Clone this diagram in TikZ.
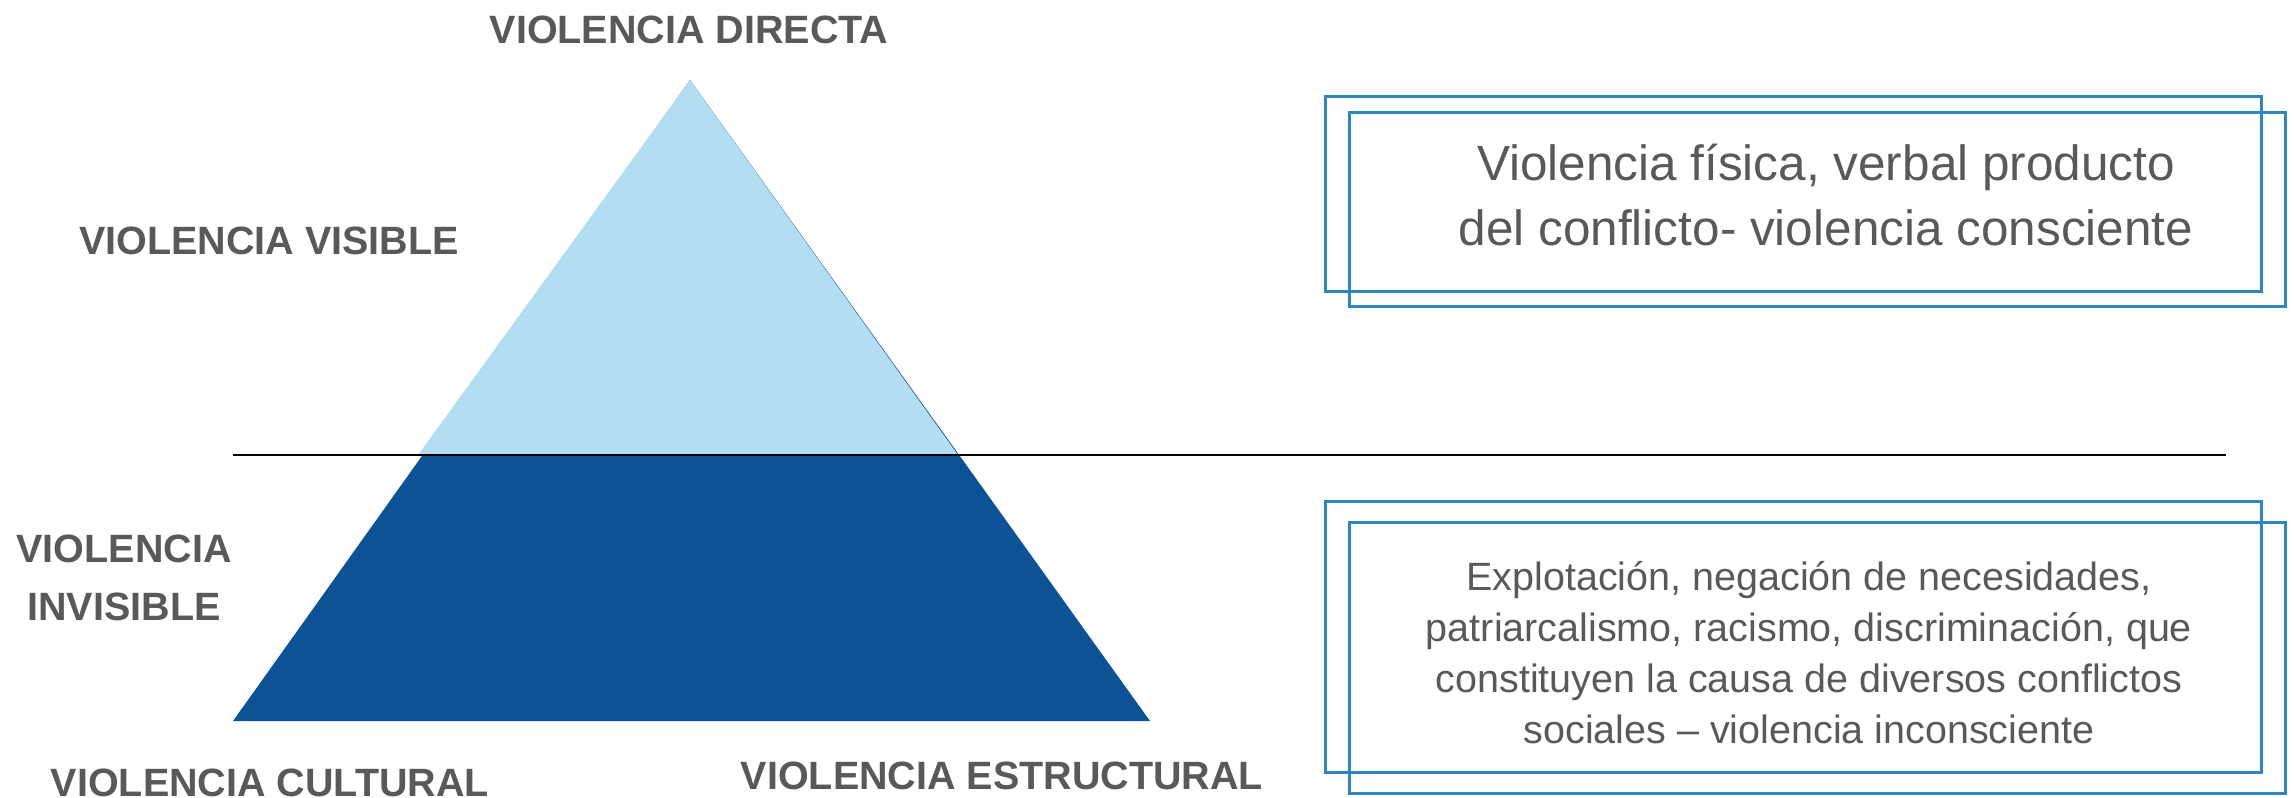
\documentclass[tikz,border=0pt]{standalone}
\usepackage{fontspec}
\setmainfont{Liberation Sans}
\usepackage{tikz}
\usetikzlibrary{positioning}

\definecolor{lightpyr}{HTML}{B3DEF2}
\definecolor{darkpyr}{HTML}{0D5294}
\definecolor{framecol}{HTML}{2E86C1}
\definecolor{labelgray}{HTML}{595959}

\begin{document}
\begin{tikzpicture}[x=1pt,y=-1pt,
    title/.style={text=labelgray,font=\fontsize{39.5}{58}\selectfont\bfseries,inner sep=0pt,align=center},
    note/.style={text=labelgray,align=center,inner sep=0pt},
    noteframe/.style={draw=framecol,line width=3pt}]

    \useasboundingbox (0,0) rectangle (2295,798);

    \coordinate(apex) at (690,80);
    \coordinate(bl) at (233,721);
    \coordinate(br) at (1150,721);
    \coordinate(wl) at (418,455);
    \coordinate(wr) at (958,455);
    \coordinate(hl) at (233,455);
    \coordinate(hr) at (2226,455);

    \fill[darkpyr] (apex) -- (br) -- (bl) -- cycle;
    \fill[lightpyr] (apex) -- (wr) -- (wl) -- cycle;
    \draw[line width=1.5pt] (hl) -- (hr);

    \node(directa)[title,anchor=base] at (689,43){VIOLENCIA DIRECTA};
    \node(visible)[title,anchor=base] at (269,254){VIOLENCIA VISIBLE};
    \node(invisible)[title,anchor=base] at (124,620){VIOLENCIA\\INVISIBLE};
    \node(cultural)[title,anchor=base] at (270,796){VIOLENCIA CULTURAL};
    \node(estructural)[title,anchor=base] at (1002,789){VIOLENCIA ESTRUCTURAL};

    \draw[noteframe] (1325,96) rectangle (2261,291);
    \draw[noteframe] (1349,112) rectangle (2285,306);
    \node(fisica)[note,font=\fontsize{49.5}{65}\selectfont,anchor=base] at (1826,245)
        {Violencia física, verbal producto\\del conflicto- violencia consciente};

    \draw[noteframe] (1325,501) rectangle (2261,772);
    \draw[noteframe] (1349,522) rectangle (2285,793);
    \node(explotacion)[note,font=\fontsize{39.5}{51}\selectfont,anchor=base] at (1809,743)
        {Explotación, negación de necesidades,\\patriarcalismo, racismo, discriminación, que\\constituyen la causa de diversos conflictos\\sociales – violencia inconsciente};

\end{tikzpicture}
\end{document}
